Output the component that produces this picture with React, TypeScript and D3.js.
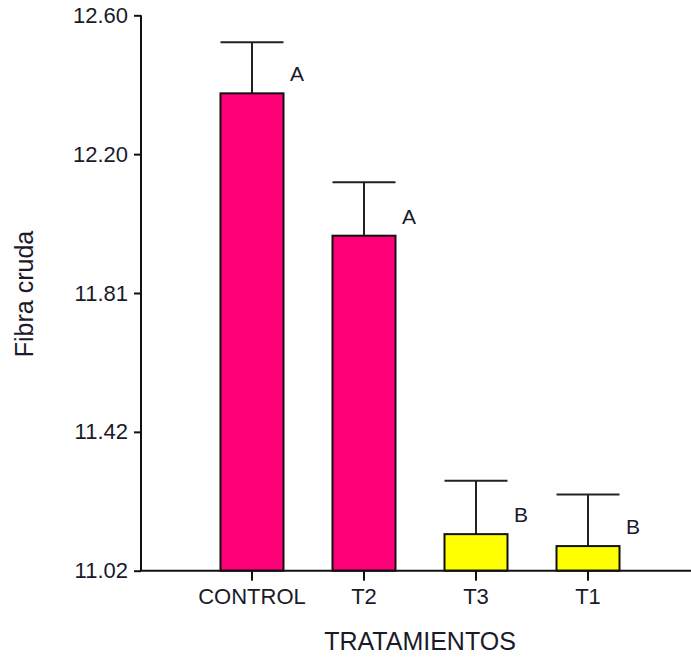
import React, { useRef, useEffect } from "react";
import * as d3 from "d3";

const categories = ["CONTROL", "T2", "T3", "T1"];
const means = [12.378, 11.973, 11.124, 11.09];
const errors = [0.145, 0.152, 0.152, 0.147];
const letters = ["A", "A", "B", "B"];
const tickValues = [11.02, 11.415, 11.81, 12.205, 12.6];
const tickLabels = ["11.02", "11.42", "11.81", "12.20", "12.60"];

const WIDTH = 691;
const HEIGHT = 658;
const FONT = "'Liberation Sans', Arial, sans-serif";

export default function App() {
  const svgRef = useRef<SVGSVGElement>(null);

  useEffect(() => {
    const svg = d3.select(svgRef.current);
    svg.selectAll("*").remove();

    const axisX = 141;
    const axisY = 570.7;
    const yTop = 15.3;

    const y = d3.scaleLinear().domain([11.02, 12.6]).range([axisY, yTop]);
    const x = d3
      .scaleBand()
      .domain(categories)
      .range([145, 695])
      .paddingInner(0.4375)
      .paddingOuter(0.674);

    const bw = x.bandwidth();
    const rows = categories.map((c, i) => ({
      cat: c,
      mean: means[i],
      err: errors[i],
      letter: letters[i],
    }));

    // error bars (behind bars)
    const eb = svg.append("g");
    rows.forEach((d) => {
      const cx = (x(d.cat) as number) + bw / 2;
      eb.append("line")
        .attr("x1", cx)
        .attr("x2", cx)
        .attr("y1", y(d.mean))
        .attr("y2", y(d.mean + d.err))
        .attr("stroke", "#222")
        .attr("stroke-width", 2);
      eb.append("line")
        .attr("x1", x(d.cat) as number)
        .attr("x2", (x(d.cat) as number) + bw)
        .attr("y1", y(d.mean + d.err))
        .attr("y2", y(d.mean + d.err))
        .attr("stroke", "#222")
        .attr("stroke-width", 2);
    });

    // bars
    svg
      .append("g")
      .selectAll("rect")
      .data(rows)
      .enter()
      .append("rect")
      .attr("x", (d) => x(d.cat) as number)
      .attr("y", (d) => y(d.mean))
      .attr("width", bw)
      .attr("height", (d) => axisY - y(d.mean))
      .attr("fill", (d) => (d.letter === "A" ? "#ff0078" : "#ffff00"))
      .attr("stroke", "#111")
      .attr("stroke-width", 2);

    // significance letters
    svg
      .append("g")
      .selectAll("text")
      .data(rows)
      .enter()
      .append("text")
      .attr("x", (d) => (x(d.cat) as number) + bw + 6.5)
      .attr("y", (d) => y(d.mean) - 12)
      .attr("font-family", FONT)
      .attr("font-size", 21)
      .attr("fill", "#1a1a2a")
      .text((d) => d.letter);

    // y axis
    const yAxis = d3
      .axisLeft(y)
      .tickValues(tickValues)
      .tickFormat((_, i) => tickLabels[i])
      .tickSize(7)
      .tickPadding(6);
    const gy = svg
      .append("g")
      .attr("transform", `translate(${axisX},0)`)
      .call(yAxis);
    gy.select(".domain")
      .attr("d", `M0,${yTop}V${axisY}`)
      .attr("stroke", "#111")
      .attr("stroke-width", 2);
    gy.selectAll(".tick line").attr("stroke", "#111").attr("stroke-width", 2);
    gy.selectAll(".tick text")
      .attr("font-family", FONT)
      .attr("font-size", 22)
      .attr("fill", "#1a1a2a");

    // x axis
    const xAxis = d3.axisBottom(x).tickSize(10).tickPadding(8);
    const gx = svg
      .append("g")
      .attr("transform", `translate(0,${axisY})`)
      .call(xAxis);
    gx.select(".domain")
      .attr("d", `M${axisX - 1},0H${WIDTH}`)
      .attr("stroke", "#111")
      .attr("stroke-width", 2);
    gx.selectAll(".tick line").attr("stroke", "#111").attr("stroke-width", 2);
    gx.selectAll(".tick text")
      .attr("font-family", FONT)
      .attr("font-size", 22)
      .attr("fill", "#1a1a2a");

    // axis titles
    svg
      .append("text")
      .attr("x", 420)
      .attr("y", 650)
      .attr("text-anchor", "middle")
      .attr("font-family", FONT)
      .attr("font-size", 25)
      .attr("fill", "#1a1a2a")
      .text("TRATAMIENTOS");

    svg
      .append("text")
      .attr("transform", `translate(33,294) rotate(-90)`)
      .attr("text-anchor", "middle")
      .attr("font-family", FONT)
      .attr("font-size", 25)
      .attr("fill", "#1a1a2a")
      .text("Fibra cruda");
  }, []);

  return (
    <svg
      ref={svgRef}
      width={WIDTH}
      height={HEIGHT}
      style={{ position: "absolute", left: 0, top: 0, background: "#fff" }}
    ></svg>
  );
}
